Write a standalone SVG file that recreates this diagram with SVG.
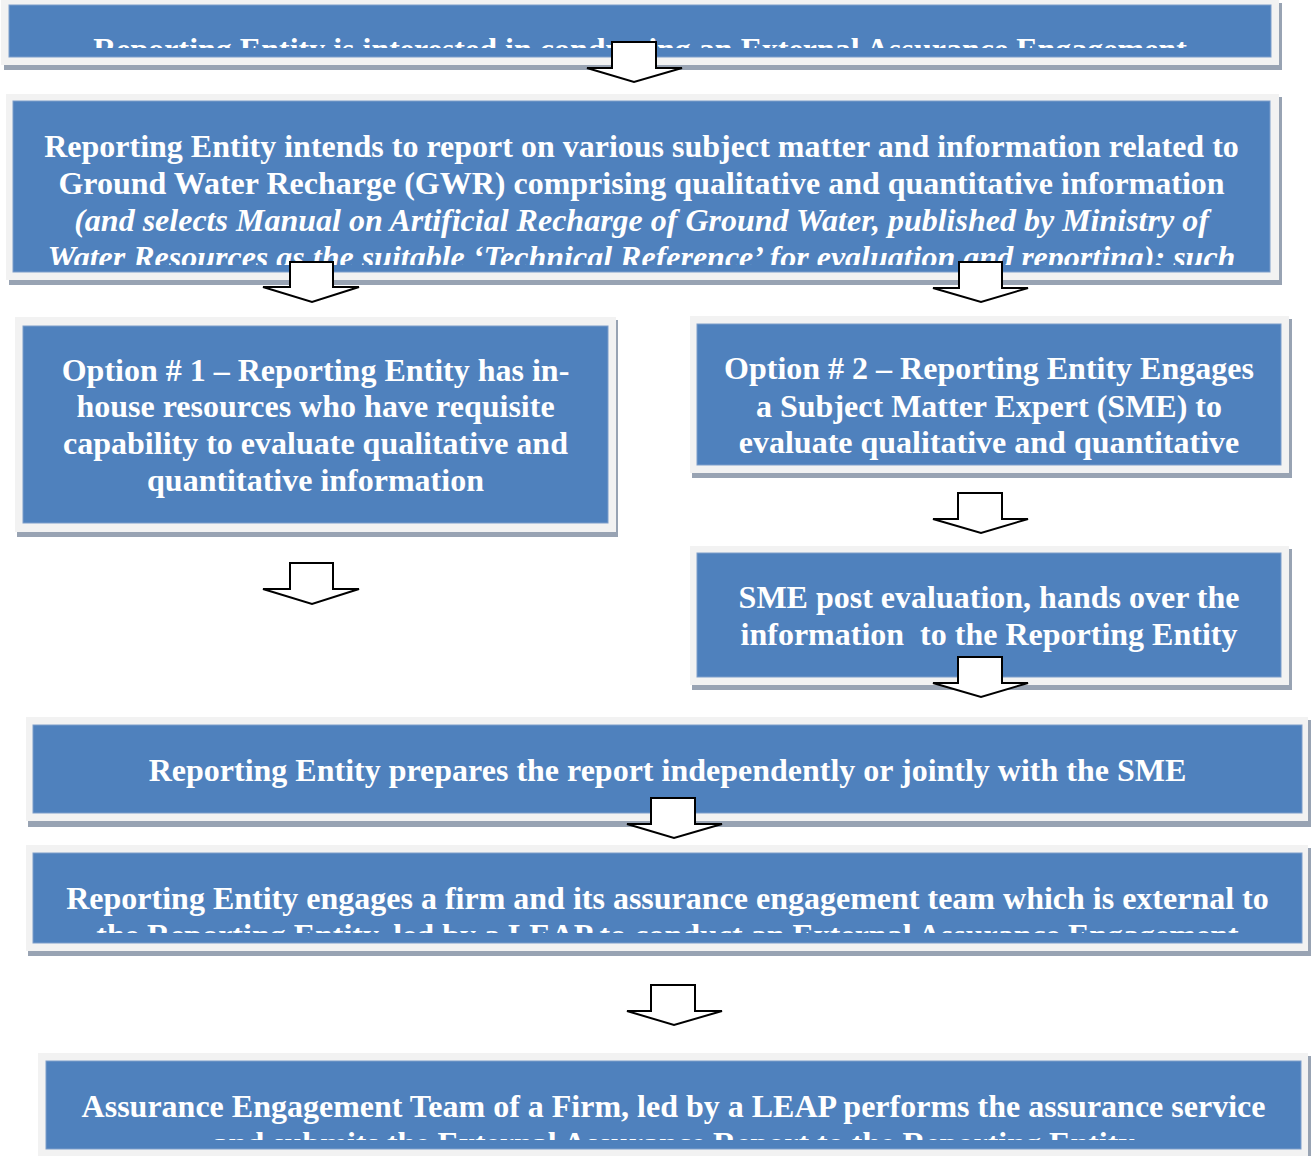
<svg xmlns="http://www.w3.org/2000/svg" width="1314" height="1156" viewBox="0 0 1314 1156">
<style>
.frame{fill:#f2f2f2}
.shadow{fill:#98a3b3}
.body{fill:#4f81bd;stroke:#7d9dca;stroke-width:1}
.t{font-family:"Liberation Serif","Times New Roman",serif;font-weight:bold;font-size:32px;fill:#ffffff;text-anchor:middle}
.i{font-style:italic}
.arrow{fill:#ffffff;stroke:#000000;stroke-width:2;stroke-linejoin:miter}
</style>
<defs>
<clipPath id="c1"><rect x="9" y="5" width="1262" height="43"/></clipPath>
<clipPath id="c2"><rect x="13" y="101" width="1257" height="164"/></clipPath>
<clipPath id="c7"><rect x="33" y="853" width="1269" height="80"/></clipPath>
<clipPath id="c8"><rect x="46" y="1061" width="1255" height="79"/></clipPath>
</defs>
<rect width="1314" height="1156" fill="#ffffff"/>

<g id="node-interest">
<rect class="shadow" x="4" y="3" width="1278" height="67"/>
<rect class="frame" x="1" y="0" width="1278" height="65"/>
<rect class="body" x="9" y="5" width="1262" height="52"/>
<text class="t" x="640" y="60" clip-path="url(#c1)">Reporting Entity is interested in conducting an External Assurance Engagement</text>
</g>

<g id="node-intends">
<rect class="shadow" x="9" y="97" width="1273" height="188"/>
<rect class="frame" x="6" y="94" width="1273" height="186"/>
<rect class="body" x="13" y="101" width="1257" height="171"/>
<g clip-path="url(#c2)">
<text class="t" x="641.5" y="157">Reporting Entity intends to report on various subject matter and information related to</text>
<text class="t" x="641.5" y="194">Ground Water Recharge (GWR) comprising qualitative and quantitative information</text>
<text class="t i" x="641.5" y="231">(and selects Manual on Artificial Recharge of Ground Water, published by Ministry of</text>
<text class="t i" x="641.5" y="268">Water Resources as the suitable ‘Technical Reference’ for evaluation and reporting); such</text>
</g>
</g>

<g id="node-option1">
<rect class="shadow" x="17" y="320" width="601" height="217"/>
<rect class="frame" x="15" y="317" width="601" height="215"/>
<rect class="body" x="23" y="326" width="585" height="197"/>
<text class="t" x="315.5" y="381">Option # 1 – Reporting Entity has in-</text>
<text class="t" x="315.5" y="417">house resources who have requisite</text>
<text class="t" x="315.5" y="454">capability to evaluate qualitative and</text>
<text class="t" x="315.5" y="491">quantitative information</text>
</g>

<g id="node-option2">
<rect class="shadow" x="692" y="319" width="600" height="159"/>
<rect class="frame" x="690" y="316" width="599" height="157"/>
<rect class="body" x="697" y="324" width="584" height="141"/>
<text class="t" x="989" y="379">Option # 2 – Reporting Entity Engages</text>
<text class="t" x="989" y="417">a Subject Matter Expert (SME) to</text>
<text class="t" x="989" y="453">evaluate qualitative and quantitative</text>
</g>

<g id="node-sme">
<rect class="shadow" x="692" y="549" width="600" height="141"/>
<rect class="frame" x="690" y="546" width="599" height="139"/>
<rect class="body" x="697" y="553" width="584" height="124"/>
<text class="t" x="989" y="608">SME post evaluation, hands over the</text>
<text class="t" x="989" y="645" xml:space="preserve">information  to the Reporting Entity</text>
</g>

<g id="node-prepares">
<rect class="shadow" x="28" y="720" width="1283" height="107"/>
<rect class="frame" x="26" y="717" width="1282" height="104"/>
<rect class="body" x="33" y="725" width="1269" height="88"/>
<text class="t" x="667.5" y="781">Reporting Entity prepares the report independently or jointly with the SME</text>
</g>

<g id="node-engages">
<rect class="shadow" x="28" y="848" width="1283" height="108"/>
<rect class="frame" x="26" y="845" width="1282" height="106"/>
<rect class="body" x="33" y="853" width="1269" height="90"/>
<g clip-path="url(#c7)">
<text class="t" x="667.5" y="909">Reporting Entity engages a firm and its assurance engagement team which is external to</text>
<text class="t" x="667.5" y="946">the Reporting Entity, led by a LEAP to conduct an External Assurance Engagement</text>
</g>
</g>

<g id="node-assurance">
<rect class="shadow" x="40" y="1056" width="1271" height="100"/>
<rect class="frame" x="38" y="1053" width="1270" height="103"/>
<rect class="body" x="46" y="1061" width="1255" height="88"/>
<g clip-path="url(#c8)">
<text class="t" x="673.5" y="1117">Assurance Engagement Team of a Firm, led by a LEAP performs the assurance service</text>
<text class="t" x="673.5" y="1154">and submits the External Assurance Report to the Reporting Entity</text>
</g>
</g>

<g id="connectors">
<path class="arrow" d="M612 42 H656 V68 H682 L634 82 L587 68 H612 Z"/>
<path class="arrow" d="M290 262 H333 V287 H359 L312 302 L263 287 H290 Z"/>
<path class="arrow" d="M959 262 H1002 V288 H1028 L981 302 L933 288 H959 Z"/>
<path class="arrow" d="M290 563 H333 V589 H359 L312 604 L263 589 H290 Z"/>
<path class="arrow" d="M958 493 H1002 V519 H1028 L981 533 L933 519 H958 Z"/>
<path class="arrow" d="M958 657 H1002 V683 H1028 L981 697 L933 683 H958 Z"/>
<path class="arrow" d="M651 798 H695 V824 H722 L674 838 L627 824 H651 Z"/>
<path class="arrow" d="M651 985 H695 V1011 H722 L674 1025 L627 1011 H651 Z"/>
</g>
</svg>
